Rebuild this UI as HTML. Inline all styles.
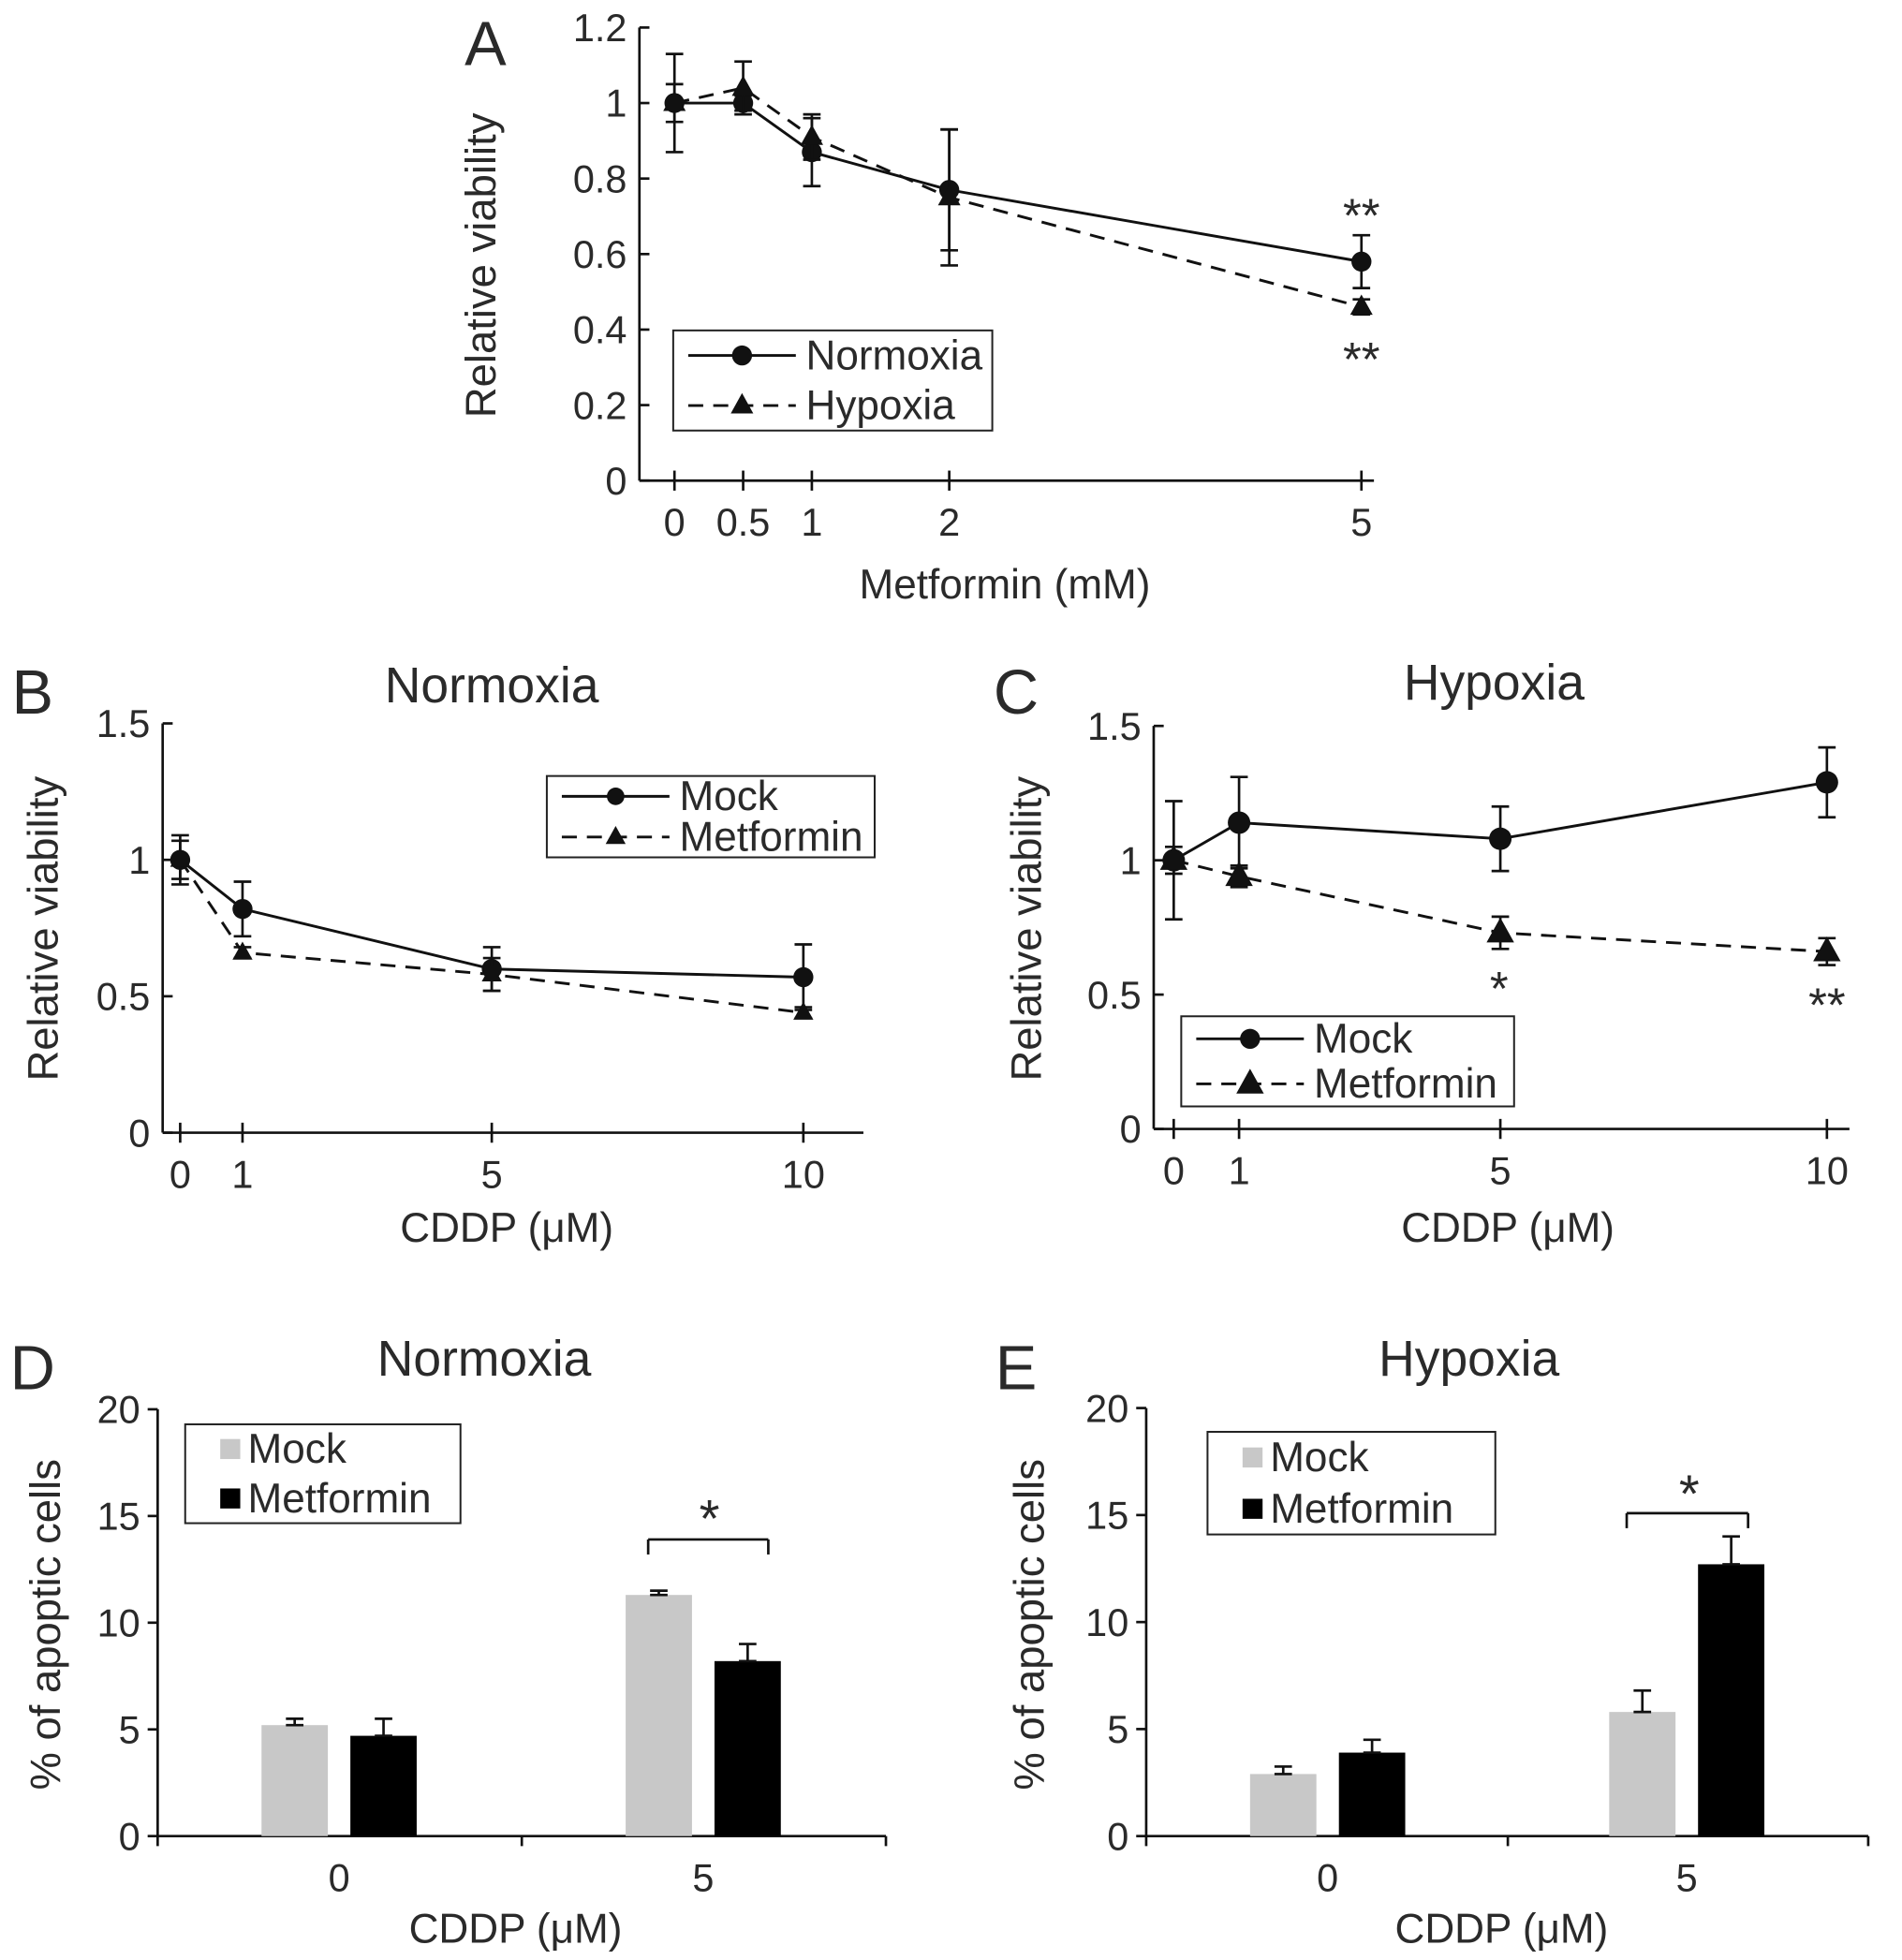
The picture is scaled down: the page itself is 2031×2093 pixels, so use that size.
<!DOCTYPE html>
<html><head><meta charset="utf-8"><style>
html,body{margin:0;padding:0;background:#fff}
svg{display:block}
text{font-family:"Liberation Sans",sans-serif;fill:#2a2a2a}
</style></head><body>
<svg id="fig" width="2031" height="2093" viewBox="0 0 1520 1566" preserveAspectRatio="none" xmlns="http://www.w3.org/2000/svg"></svg>
<script>
// Panel A data
const aX = [0, 0.5, 1, 2, 5];
const aNorm = [1.0, 1.0, 0.87, 0.77, 0.58];
const aNormErr = [0.13, 0.02, 0.09, 0.16, 0.07];
const aHyp = [1.0, 1.04, 0.91, 0.75, 0.46];
const aHypErr = [0.05, 0.07, 0.06, 0.18, 0.02];
const aYTicks = [0, 0.2, 0.4, 0.6, 0.8, 1, 1.2];
const aXLabels = ["0", "0.5", "1", "2", "5"];
// Panel B data
const bX = [0, 1, 5, 10];
const bMock = [1.0, 0.82, 0.6, 0.57];
const bMockErr = [0.09, 0.1, 0.08, 0.12];
const bMet = [1.0, 0.66, 0.58, 0.44];
const bMetErr = [0.07, 0.02, 0.06, 0.02];
// Panel C data
const cX = [0, 1, 5, 10];
const cMock = [1.0, 1.14, 1.08, 1.29];
const cMockErr = [0.22, 0.17, 0.12, 0.13];
const cMet = [1.0, 0.94, 0.73, 0.66];
const cMetErr = [0.05, 0.04, 0.06, 0.05];
const bcYTicks = [0, 0.5, 1, 1.5];
const bcYLabels = ["0", "0.5", "1", "1.5"];
// Panel D/E data
const deCats = ["0", "5"];
const dMock = [5.2, 11.3];
const dMockErr = [0.3, 0.2];
const dMet = [4.7, 8.2];
const dMetErr = [0.8, 0.8];
const eMock = [2.9, 5.8];
const eMockErr = [0.35, 1.0];
const eMet = [3.9, 12.7];
const eMetErr = [0.6, 1.3];
const deYTicks = [0, 5, 10, 15, 20];

const TICK = 31, TITLE = 34, PT = 40, LEG = 33;
const svg = document.getElementById('fig');
const NS = 'http://www.w3.org/2000/svg';
function el(tag, attrs, parent) {
  const e = document.createElementNS(NS, tag);
  for (const k in attrs) e.setAttribute(k, attrs[k]);
  (parent || svg).appendChild(e);
  return e;
}
function txt(x, y, s, size, anchor, name, extra) {
  const t = el('text', Object.assign({x: x, y: y, 'font-size': size, 'text-anchor': anchor || 'middle'}, extra || {}));
  t.textContent = s;
  
  
  return t;
}
function line(x1, y1, x2, y2, w, dash, name) {
  const l = el('line', {x1: x1, y1: y1, x2: x2, y2: y2, stroke: '#111', 'stroke-width': w || 2});
  if (dash) l.setAttribute('stroke-dasharray', dash);
  
  
  return l;
}
function marker(type, x, y, r, name) {
  let m;
  if (type === 'circle') m = el('circle', {cx: x, cy: y, r: r, fill: '#111'});
  else m = el('polygon', {points: `${x},${y - r * 1.1} ${x - r},${y + r * 0.7} ${x + r},${y + r * 0.7}`, fill: '#111'});
  
  
}
function errbar(x, y1, y2, cap, name) {
  line(x, y1, x, y2, 2, null, name);
  line(x - cap, y1, x + cap, y1, 2, null, name + '-cap-top');
  line(x - cap, y2, x + cap, y2, 2, null, name + '-cap-bottom');
}

function lineChart(cfg) {
  const sx = v => cfg.x0 + cfg.xs * v;
  const sy = v => cfg.y0 - (v / cfg.yMax) * (cfg.y0 - cfg.yTop);
  line(cfg.ax, cfg.yTop, cfg.ax, cfg.y0, 2, null, cfg.p + '-y-axis');
  line(cfg.ax, cfg.y0, cfg.axEnd, cfg.y0, 2, null, cfg.p + '-x-axis');
  cfg.yTicks.forEach((v, i) => {
    line(cfg.ax, sy(v), cfg.ax + 8, sy(v), 2, null, cfg.p + '-y-tick');
    txt(cfg.ax - 10, sy(v) + 11, cfg.yLabels[i], TICK, 'end', cfg.p + '-y-tick-label');
  });
  cfg.xs_.forEach((v, i) => {
    line(sx(v), cfg.y0 - 8, sx(v), cfg.y0 + 8, 2, null, cfg.p + '-x-tick');
    txt(sx(v), cfg.y0 + 44, cfg.xLabels[i], TICK, 'middle', cfg.p + '-x-tick-label');
  });
  cfg.series.forEach(s => {
    const pts = cfg.xs_.map((v, i) => sx(v) + ',' + sy(s.vals[i])).join(' ');
    const pl = el('polyline', {points: pts, fill: 'none', stroke: '#111', 'stroke-width': 2.2});
    if (s.dash) pl.setAttribute('stroke-dasharray', '12,8');
    
    
    cfg.xs_.forEach((v, i) => {
      errbar(sx(v), sy(s.vals[i] + s.err[i]), sy(s.vals[i] - s.err[i]), 7, s.name + '-error-bar');
      marker(s.marker, sx(v), sy(s.vals[i]), s.r, s.name + '-point');
    });
  });
  return {sx, sy};
}

function legendLines(x, y, w, h, items, name) {
  const g = el('g', {});
  
  
  const r = el('rect', {x: x, y: y, width: w, height: h, fill: '#fff', stroke: '#222', 'stroke-width': 1.5}, g);
  
  
  items.forEach((it, i) => {
    const cy = y + h * (i * 2 + 1) / (items.length * 2);
    const l = el('line', {x1: x + 12, y1: cy, x2: x + 98, y2: cy, stroke: '#111', 'stroke-width': 2.2}, g);
    if (it.dash) l.setAttribute('stroke-dasharray', '12,8');
    
    
    marker(it.marker, x + 55, cy, it.r, 'legend-marker');
    txt(x + 106, cy + 11, it.label, LEG, 'start', 'legend-entry');
  });
}

function barChart(cfg) {
  const sy = v => cfg.y0 - (v / 20) * (cfg.y0 - cfg.yTop);
  line(cfg.ax, cfg.yTop, cfg.ax, cfg.y0, 2, null, cfg.p + '-y-axis');
  line(cfg.ax, cfg.y0, cfg.axEnd, cfg.y0, 2, null, cfg.p + '-x-axis');
  deYTicks.forEach(v => {
    line(cfg.ax - 8, sy(v), cfg.ax, sy(v), 2, null, cfg.p + '-y-tick');
    txt(cfg.ax - 14, sy(v) + 11, String(v), TICK, 'end', cfg.p + '-y-tick-label');
  });
  [cfg.ax, cfg.mid, cfg.axEnd].forEach(x => line(x, cfg.y0, x, cfg.y0 + 8, 2, null, cfg.p + '-x-tick'));
  deCats.forEach((c, i) => {
    const cx = cfg.centers[i];
    txt(cx, cfg.y0 + 44, c, TICK, 'middle', cfg.p + '-x-tick-label');
    [[cfg.mock, cfg.mockErr, '#c8c8c8', -1, 'mock'], [cfg.met, cfg.metErr, '#000', 1, 'metformin']].forEach(s => {
      const bx = s[3] < 0 ? cx - 62 : cx + 9;
      const v = s[0][i];
      const b = el('rect', {x: bx, y: sy(v), width: 53, height: cfg.y0 - sy(v), fill: s[2]});
      
      
      const ex = bx + 26.5;
      errbar(ex, sy(v + s[1][i]), sy(v), 7, cfg.p + '-error-bar');
    });
  });
}

function legendBars(x, y, w, h, name) {
  const g = el('g', {});
  
  
  const r = el('rect', {x: x, y: y, width: w, height: h, fill: '#fff', stroke: '#222', 'stroke-width': 1.5}, g);
  
  
  [['Mock', '#c8c8c8'], ['Metformin', '#000']].forEach((it, i) => {
    const cy = y + h * (i * 2 + 1) / 4;
    const s = el('rect', {x: x + 28, y: cy - 8, width: 16, height: 16, fill: it[1]}, g);
    
    
    txt(x + 50, cy + 11, it[0], LEG, 'start', 'legend-entry');
  });
}

// Panel letters
txt(388, 52, 'A', 50, 'middle', 'panel-label-a');
txt(26, 570, 'B', 50, 'middle', 'panel-label-b');
txt(812, 570, 'C', 50, 'middle', 'panel-label-c');
txt(26, 1110, 'D', 50, 'middle', 'panel-label-d');
txt(812, 1110, 'E', 50, 'middle', 'panel-label-e');

// Panel A
lineChart({p: 'a', x0: 539, xs: 109.8, y0: 384, yTop: 22, yMax: 1.2, ax: 511, axEnd: 1098,
  yTicks: aYTicks, yLabels: aYTicks.map(String), xs_: aX, xLabels: aXLabels,
  series: [{name: 'a-normoxia', vals: aNorm, err: aNormErr, marker: 'circle', r: 8},
           {name: 'a-hypoxia', vals: aHyp, err: aHypErr, marker: 'tri', r: 9, dash: true}]});
legendLines(538, 264, 255, 80, [{label: 'Normoxia', marker: 'circle', r: 8}, {label: 'Hypoxia', marker: 'tri', r: 9, dash: true}], 'a-legend');
txt(1088, 185, '**', 38, 'middle', 'a-sig-normoxia');
txt(1088, 300, '**', 38, 'middle', 'a-sig-hypoxia');
txt(396, 212, 'Relative viability', TITLE, 'middle', 'a-y-axis-title', {transform: 'rotate(-90 396 212)'});
txt(803, 478, 'Metformin (mM)', TITLE - 1, 'middle', 'a-x-axis-title');

// Panel B
txt(393, 561, 'Normoxia', PT, 'middle', 'b-title');
lineChart({p: 'b', x0: 144, xs: 49.8, y0: 905, yTop: 578, yMax: 1.5, ax: 130, axEnd: 690,
  yTicks: bcYTicks, yLabels: bcYLabels, xs_: bX, xLabels: bX.map(String),
  series: [{name: 'b-mock', vals: bMock, err: bMockErr, marker: 'circle', r: 8},
           {name: 'b-metformin', vals: bMet, err: bMetErr, marker: 'tri', r: 8, dash: true}]});
legendLines(437, 620, 262, 65, [{label: 'Mock', marker: 'circle', r: 7}, {label: 'Metformin', marker: 'tri', r: 8, dash: true}], 'b-legend');
txt(46, 742, 'Relative viability', TITLE, 'middle', 'b-y-axis-title', {transform: 'rotate(-90 46 742)'});
txt(405, 992, 'CDDP (μM)', TITLE - 1, 'middle', 'b-x-axis-title');

// Panel C
txt(1194, 559, 'Hypoxia', PT, 'middle', 'c-title');
lineChart({p: 'c', x0: 938, xs: 52.2, y0: 902, yTop: 580, yMax: 1.5, ax: 922, axEnd: 1478,
  yTicks: bcYTicks, yLabels: bcYLabels, xs_: cX, xLabels: cX.map(String),
  series: [{name: 'c-mock', vals: cMock, err: cMockErr, marker: 'circle', r: 9},
           {name: 'c-metformin', vals: cMet, err: cMetErr, marker: 'tri', r: 11, dash: true}]});
legendLines(944, 812, 266, 72, [{label: 'Mock', marker: 'circle', r: 8}, {label: 'Metformin', marker: 'tri', r: 11, dash: true}], 'c-legend');
txt(1198, 803, '*', 38, 'middle', 'c-sig-5');
txt(1460, 816, '**', 38, 'middle', 'c-sig-10');
txt(832, 742, 'Relative viability', TITLE, 'middle', 'c-y-axis-title', {transform: 'rotate(-90 832 742)'});
txt(1205, 992, 'CDDP (μM)', TITLE - 1, 'middle', 'c-x-axis-title');

// Panel D
txt(387, 1099, 'Normoxia', PT, 'middle', 'd-title');
barChart({p: 'd', ax: 126, axEnd: 708, mid: 417, y0: 1467, yTop: 1126, centers: [271, 562],
  mock: dMock, mockErr: dMockErr, met: dMet, metErr: dMetErr});
legendBars(148, 1138, 220, 79, 'd-legend');
line(518, 1230, 614, 1230, 2, null, 'd-bracket');
line(518, 1230, 518, 1242, 2, null, 'd-bracket-left');
line(614, 1230, 614, 1242, 2, null, 'd-bracket-right');
txt(567, 1228, '*', 42, 'middle', 'd-sig');
txt(48, 1298, '% of apoptic cells', TITLE, 'middle', 'd-y-axis-title', {transform: 'rotate(-90 48 1298)'});
txt(412, 1552, 'CDDP (μM)', TITLE - 1, 'middle', 'd-x-axis-title');

// Panel E
txt(1174, 1099, 'Hypoxia', PT, 'middle', 'e-title');
barChart({p: 'e', ax: 916, axEnd: 1493, mid: 1205, y0: 1467, yTop: 1125, centers: [1061, 1348],
  mock: eMock, mockErr: eMockErr, met: eMet, metErr: eMetErr});
legendBars(965, 1144, 230, 82, 'e-legend');
line(1300, 1209, 1397, 1209, 2, null, 'e-bracket');
line(1300, 1209, 1300, 1221, 2, null, 'e-bracket-left');
line(1397, 1209, 1397, 1221, 2, null, 'e-bracket-right');
txt(1350, 1208, '*', 42, 'middle', 'e-sig');
txt(834, 1298, '% of apoptic cells', TITLE, 'middle', 'e-y-axis-title', {transform: 'rotate(-90 834 1298)'});
txt(1200, 1552, 'CDDP (μM)', TITLE - 1, 'middle', 'e-x-axis-title');
</script>
</body></html>
